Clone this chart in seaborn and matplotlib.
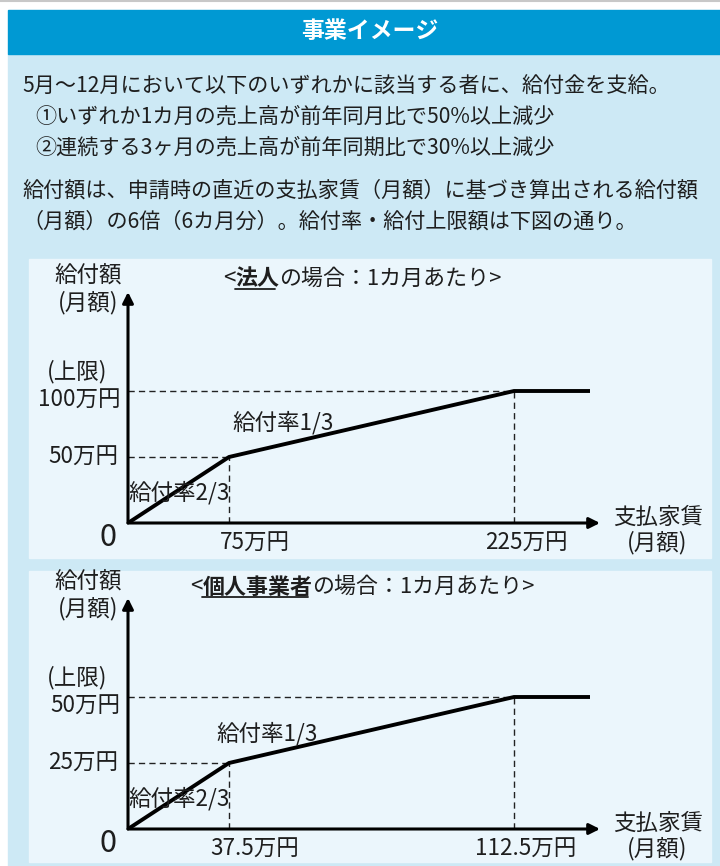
import numpy as np
import matplotlib
matplotlib.use('Agg')
import matplotlib.pyplot as plt
import seaborn as sns
from matplotlib.patches import Rectangle
from matplotlib.lines import Line2D

# 支払家賃(月額, 万円) と 給付額(月額, 万円)
houjin_yachin = [0, 75, 225, 265]
houjin_kyufu = [0, 50, 100, 100]
kojin_yachin = [0, 37.5, 112.5, 132.5]
kojin_kyufu = [0, 25, 50, 50]

houjin_xlabels = ['75万円', '225万円']
houjin_ylabels = ['50万円', '100万円']
kojin_xlabels = ['37.5万円', '112.5万円']
kojin_ylabels = ['25万円', '50万円']

header = '事業イメージ'
intro_lines = [
    '5月～12月において以下のいずれかに該当する者に、給付金を支給。',
    '①いずれか1カ月の売上高が前年同月比で50%以上減少',
    '②連続する3ヶ月の売上高が前年同期比で30%以上減少',
    '給付額は、申請時の直近の支払家賃（月額）に基づき算出される給付額',
    '（月額）の6倍（6カ月分）。給付率・給付上限額は下図の通り。',
]

sns.set_theme(style='white')
plt.rcParams['font.family'] = ['Noto Sans CJK JP', 'DejaVu Sans']

W, H = 720, 866
fig = plt.figure(figsize=(W / 100, H / 100), dpi=100)
fig.patch.set_facecolor('white')
TXT = '#1e1e1e'
FS = 16.2


def fx(x):
    return x / W


def fy(y):
    return 1 - y / H


# 背景
fig.add_artist(Line2D([0, 1], [fy(0.5), fy(0.5)], color='#c8c8c8', lw=1.5))
fig.patches.append(Rectangle((fx(8), fy(866)), fx(712), fy(54) - fy(866),
                             transform=fig.transFigure, color='#cde9f5', zorder=-5))
fig.patches.append(Rectangle((fx(8), fy(54)), fx(712), fy(10) - fy(54),
                             transform=fig.transFigure, color='#0099d3', zorder=-5))
for top, bottom in [(259, 558), (571, 862)]:
    fig.patches.append(Rectangle((fx(29), fy(bottom)), fx(682), fy(top) - fy(bottom),
                                 transform=fig.transFigure, color='#ebf6fc', zorder=-4))

fig.text(fx(370), fy(32), header, color='white', fontsize=16.5, fontweight='bold',
         ha='center', va='center')

for line, (x, y) in zip(intro_lines, [(22, 87), (35, 117), (35, 148), (22, 191), (22, 222)]):
    fig.text(fx(x), fy(y), line, color=TXT, fontsize=15.2, ha='left', va='center')


def draw_panel(ax_bottom, yachin, kyufu, xlabels, ylabels, title_parts, title_x, title_y,
               rate_off):
    ax = fig.add_axes([fx(128), fy(ax_bottom), fx(472), fy(ax_bottom - 231) - fy(ax_bottom)])
    ax.patch.set_visible(False)
    b = yachin[1]

    # 模式図なので横軸は区間ごとに縮尺が違う
    def fwd(x):
        x = np.asarray(x, dtype=float)
        return np.where(x <= b, x / b * 101, 101 + (x - b) / (2 * b) * 285)

    def inv(p):
        p = np.asarray(p, dtype=float)
        return np.where(p <= 101, p / 101 * b, b + (p - 101) / 285 * (2 * b))

    ax.set_xscale('function', functions=(fwd, inv))
    ax.set_xlim(0, float(inv(472)))
    ax.set_ylim(0, kyufu[2] * 231 / 132)
    for s in ax.spines.values():
        s.set_visible(False)
    ax.set_xticks([])
    ax.set_yticks([])
    ax.minorticks_off()

    # 破線の補助線
    for i in (1, 2):
        ax.plot([0, yachin[i]], [kyufu[i], kyufu[i]], color='#222222', lw=1, ls=(0, (4.5, 3)))
        ax.plot([yachin[i], yachin[i]], [0, kyufu[i]], color='#222222', lw=1, ls=(0, (4.5, 3)))

    sns.lineplot(x=yachin, y=kyufu, ax=ax, color='black', lw=2.8, sort=False,
                 solid_joinstyle='miter', solid_capstyle='butt')

    arrow = dict(arrowstyle='-|>', color='black', lw=2.2, mutation_scale=16,
                 shrinkA=0, shrinkB=0)
    ax.annotate('', xy=(1, 0), xytext=(0, 0), xycoords='axes fraction', arrowprops=arrow,
                annotation_clip=False)
    ax.annotate('', xy=(0, 1), xytext=(0, 0), xycoords='axes fraction', arrowprops=arrow,
                annotation_clip=False)

    kw = dict(textcoords='offset pixels', color=TXT, fontsize=FS, annotation_clip=False)
    # 縦軸ラベル
    ax.annotate('給付額', xy=(0, 1), xycoords='axes fraction', xytext=(-40, 17),
                ha='center', va='center', **kw)
    ax.annotate('(月額)', xy=(0, 1), xycoords='axes fraction', xytext=(-40, -11),
                ha='center', va='center', **kw)
    # 横軸ラベル
    ax.annotate('支払家賃', xy=(1, 0), xycoords='axes fraction', xytext=(58, 6),
                ha='center', va='center', **kw)
    ax.annotate('(月額)', xy=(1, 0), xycoords='axes fraction', xytext=(57, -20),
                ha='center', va='center', **kw)
    ax.annotate('0', xy=(0, 0), xycoords='axes fraction', xytext=(-20, -15),
                ha='center', va='center', textcoords='offset pixels', color=TXT,
                fontsize=22, annotation_clip=False)

    # 目盛りラベル
    ax.annotate(ylabels[0], xy=(0, kyufu[1]), xycoords='data', xytext=(-10, 0),
                ha='right', va='center', **kw)
    ax.annotate(ylabels[1], xy=(0, kyufu[2]), xycoords='data', xytext=(-8, -9),
                ha='right', va='center', **kw)
    ax.annotate('(上限)', xy=(0, kyufu[2]), xycoords='data', xytext=(-51, 19),
                ha='center', va='center', **kw)
    ax.annotate(xlabels[0], xy=(yachin[1], 0), xycoords='data', xytext=(26, -20),
                ha='center', va='center', **kw)
    ax.annotate(xlabels[1], xy=(yachin[2], 0), xycoords='data', xytext=(12, -20),
                ha='center', va='center', **kw)

    # 給付率
    ax.annotate('給付率1/3', xy=(yachin[1], kyufu[1]), xycoords='data', xytext=rate_off,
                ha='left', va='center', **kw)
    ax.annotate('給付率2/3', xy=(0, 0), xycoords='data', xytext=(0, 30),
                ha='left', va='center', **kw)

    # タイトル(太字部分に下線)
    pre, bold, post = title_parts
    t0 = fig.text(fx(title_x), fy(title_y), pre, color=TXT, fontsize=16, ha='left', va='center')
    t1 = ax.annotate(bold, xy=(1, 0.5), xycoords=t0, ha='left', va='center', color=TXT,
                     fontsize=15.8, fontweight='bold', annotation_clip=False)
    ax.annotate(post, xy=(1, 0.5), xycoords=t1, ha='left', va='center', color=TXT,
                fontsize=15.8, annotation_clip=False)
    return t1, title_y


u1 = draw_panel(523, houjin_yachin, houjin_kyufu, houjin_xlabels, houjin_ylabels,
                ('<', '法人', 'の場合：1カ月あたり>'), 223, 279, (3, 34))
u2 = draw_panel(829, kojin_yachin, kojin_kyufu, kojin_xlabels, kojin_ylabels,
                ('<', '個人事業者', 'の場合：1カ月あたり>'), 190, 587, (-13, 29))

fig.canvas.draw()
r = fig.canvas.get_renderer()
for t, ty in (u1, u2):
    bb = t.get_window_extent(r)
    yy = fy(ty + 10)
    fig.add_artist(Line2D([bb.x0 / W, (bb.x1 - 4) / W], [yy, yy], color=TXT, lw=1.3))

fig.savefig('out.png', dpi=100)
